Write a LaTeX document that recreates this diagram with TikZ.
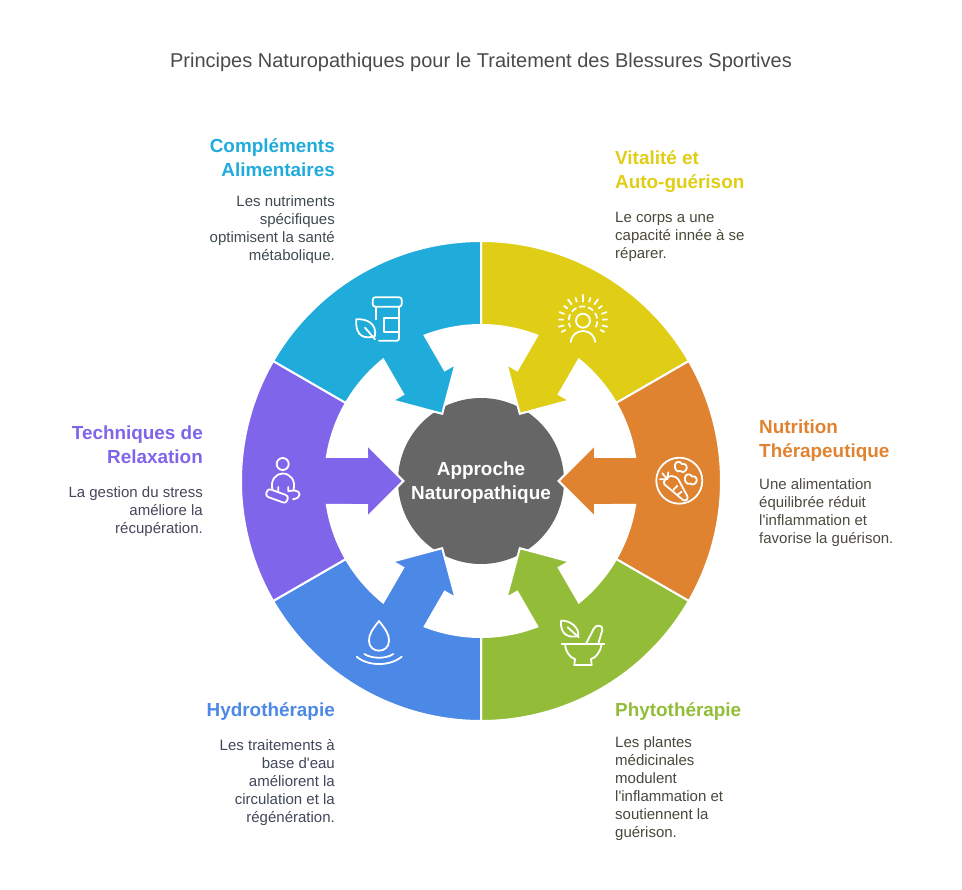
\documentclass[tikz,border=0pt]{standalone}
\usepackage{fontspec}
\setmainfont{Liberation Sans}
\usepackage{xcolor}

\definecolor{cyanc}{HTML}{1FACDB}
\definecolor{yellowc}{HTML}{E0CD15}
\definecolor{orangec}{HTML}{DF8331}
\definecolor{greenc}{HTML}{93BD39}
\definecolor{bluec}{HTML}{4C88E6}
\definecolor{purplec}{HTML}{7F65E9}
\definecolor{hubc}{HTML}{666666}
\definecolor{titlec}{HTML}{4A4A4A}
\definecolor{cyant}{HTML}{3F4A50}
\definecolor{yellowt}{HTML}{4A4838}
\definecolor{oranget}{HTML}{4D4A40}
\definecolor{greent}{HTML}{454A3C}
\definecolor{bluet}{HTML}{40465A}
\definecolor{purplet}{HTML}{46465C}

\begin{document}
\begin{tikzpicture}[x=1pt,y=1pt]
	\tikzstyle{every node}+=[inner sep=0pt]
	\tikzstyle{petal}=[draw=white,line width=2pt,line join=miter]
	\tikzstyle{icon}=[draw=white,line width=1.8pt,line cap=round,line join=round]
	\tikzstyle{heading}=[font=\fontsize{18.9}{24}\selectfont\bfseries]
	\tikzstyle{body}=[font=\fontsize{15}{18}\selectfont]
	\useasboundingbox (0,0) rectangle (962,-890);

	\node [font=\fontsize{20}{24}\selectfont,text=titlec] (title) at (481,-62) {Principes Naturopathiques pour le Traitement des Blessures Sportives};

	% hub
	\node [circle,fill=hubc,minimum size=166pt] (hub) at (481,-481) {};
	\node [align=center,text=white,font=\fontsize{18.9}{24}\selectfont\bfseries] (hublabel) at ([yshift=-2pt]hub.center) {Approche\\Naturopathique};

	% ring
	\begin{scope}[shift={(481,-481)}]
		\fill [petal,fill=yellowc] (30:240) arc [start angle=30,end angle=90,radius=240] -- (90:156) arc [start angle=90,end angle=68.85,radius=156] -- (71.89:116.5) -- (77.71:119.7) -- (60:77.6) -- (42.29:119.7) -- (48.11:116.5) -- (51.15:156) arc [start angle=51.15,end angle=30,radius=156] -- cycle;
		\fill [petal,fill=orangec] (-30:240) arc [start angle=-30,end angle=30,radius=240] -- (30:156) arc [start angle=30,end angle=8.85,radius=156] -- (11.89:116.5) -- (17.71:119.7) -- (0:77.6) -- (-17.71:119.7) -- (-11.89:116.5) -- (-8.85:156) arc [start angle=-8.85,end angle=-30,radius=156] -- cycle;
		\fill [petal,fill=greenc] (-90:240) arc [start angle=-90,end angle=-30,radius=240] -- (-30:156) arc [start angle=-30,end angle=-51.15,radius=156] -- (-48.11:116.5) -- (-42.29:119.7) -- (-60:77.6) -- (-77.71:119.7) -- (-71.89:116.5) -- (-68.85:156) arc [start angle=-68.85,end angle=-90,radius=156] -- cycle;
		\fill [petal,fill=bluec] (-150:240) arc [start angle=-150,end angle=-90,radius=240] -- (-90:156) arc [start angle=-90,end angle=-111.15,radius=156] -- (-108.11:116.5) -- (-102.29:119.7) -- (-120:77.6) -- (-137.71:119.7) -- (-131.89:116.5) -- (-128.85:156) arc [start angle=-128.85,end angle=-150,radius=156] -- cycle;
		\fill [petal,fill=purplec] (150:240) arc [start angle=150,end angle=210,radius=240] -- (210:156) arc [start angle=210,end angle=188.85,radius=156] -- (191.89:116.5) -- (197.71:119.7) -- (180:77.6) -- (162.29:119.7) -- (168.11:116.5) -- (171.15:156) arc [start angle=171.15,end angle=150,radius=156] -- cycle;
		\fill [petal,fill=cyanc] (90:240) arc [start angle=90,end angle=150,radius=240] -- (150:156) arc [start angle=150,end angle=128.85,radius=156] -- (131.89:116.5) -- (137.71:119.7) -- (120:77.6) -- (102.29:119.7) -- (108.11:116.5) -- (111.15:156) arc [start angle=111.15,end angle=90,radius=156] -- cycle;
	\end{scope}

	% jar and leaf
	\draw [icon,rounded corners=2.5pt] (372.7,-297.3) rectangle (401.7,-306.7);
	\draw [icon] (375.7,-306.7) -- (375.7,-319.3);
	\draw [icon,rounded corners=1.5pt] (399,-306.7) -- (399,-340.7) -- (379,-340.7);
	\draw [icon] (399,-317.7) -- (384.3,-317.7) -- (384.3,-331.7) -- (399,-331.7);
	\draw [icon] (356.3,-319.3) .. controls (366,-318.5) and (377,-323) .. (375,-336) .. controls (366,-339) and (355,-338) .. (356.3,-319.3);
	\draw [icon] (365,-327.7) -- (375,-339.3);

	% sun and person
	\draw [icon] (583,-320.7) circle (7);
	\draw [icon] (570.7,-342) .. controls (571.5,-335) and (577,-331) .. (583,-331) .. controls (589,-331) and (594.5,-335) .. (595.3,-342);
	\draw [icon,dash pattern=on 5pt off 4pt,shift={(583,-320.7)}] (-25:14.3) arc [start angle=-25,end angle=205,radius=14.3];
	\draw [icon,shift={(583,-320.7)}] (90:19) -- (90:26) (72:20) -- (72:24) (55:20) -- (55:26) (38:20) -- (38:24) (20:20) -- (20:25) (3:20) -- (3:24) (-14:20) -- (-14:25) (-28:20) -- (-28:24) (108:20) -- (108:24) (125:20) -- (125:26) (142:20) -- (142:24) (160:20) -- (160:25) (177:20) -- (177:24) (194:20) -- (194:25) (208:20) -- (208:24);

	% carrot and leaves
	\draw [icon] (679.3,-480.7) circle (23);
	\draw [icon] (664.3,-484.3) .. controls (662.5,-481) and (667,-476) .. (671.7,-476) .. controls (674.5,-476) and (677,-477.5) .. (678.3,-479.3) -- (687.3,-496) .. controls (688.5,-499) and (686,-501.5) .. (683,-500) -- cycle;
	\draw [icon] (667.3,-479.3) -- (660,-479.3) (667.3,-479.3) -- (662.3,-473.3) (667.3,-479.3) -- (668.3,-472.3);
	\draw [icon] (677.3,-485.7) -- (673.3,-490) (681.7,-491.7) -- (677.3,-495);
	\draw [icon] (675,-465) .. controls (675,-461) and (681,-461) .. (682,-464) .. controls (686,-463) and (688,-467) .. (686,-470) .. controls (684,-473) and (681,-472) .. (680,-471) .. controls (677,-473) and (674,-468) .. (675,-465);
	\draw [icon] (685,-477.5) .. controls (685,-473.5) and (691,-473.5) .. (692,-476.5) .. controls (696,-475.5) and (698,-479.5) .. (696,-482.5) .. controls (694,-485.5) and (691,-484.5) .. (690,-483.5) .. controls (687,-485.5) and (684,-480.5) .. (685,-477.5);

	% mortar and leaf
	\draw [icon] (561,-620.7) .. controls (570,-620) and (580,-628) .. (578,-636) .. controls (570,-638) and (560,-636) .. (561,-620.7);
	\draw [icon] (567.7,-627.3) -- (578.7,-637.3);
	\draw [icon] (586,-643.7) -- (594,-628.3) .. controls (595.5,-624.5) and (603.5,-624.5) .. (602.3,-630) -- (598.3,-643.7);
	\draw [icon] (561.7,-643.7) -- (604.3,-643.7);
	\draw [icon] (565,-643.7) .. controls (565,-651) and (570,-658) .. (575,-659) -- (574.3,-665) -- (591.7,-665) -- (591,-659) .. controls (596,-658) and (601,-651) .. (601.7,-643.7);

	% drop and ripples
	\draw [icon] (379,-621) .. controls (372,-630) and (369,-634) .. (369,-640.7) .. controls (369,-654) and (389,-654) .. (389,-640.7) .. controls (389,-634) and (386,-630) .. (379,-621) -- cycle;
	\draw [icon] (364.3,-654) .. controls (372,-659) and (386,-659) .. (393.3,-654);
	\draw [icon] (356.7,-656.7) .. controls (368,-666.5) and (390,-666.5) .. (401.7,-656.7);

	% person sitting
	\draw [icon] (282.7,-464) circle (6);
	\draw [icon] (272.5,-490) .. controls (270,-480) and (276,-473.5) .. (282.7,-473.5) .. controls (290,-473.5) and (296,-480) .. (293.5,-490);
	\draw [icon] (278.3,-487) -- (278.3,-492) (288.3,-487) -- (288.3,-491) -- (295,-490.5) .. controls (301,-491) and (302,-498) .. (293,-499.3);
	\draw [icon,rotate around={-20:(277,-496)},rounded corners=3pt] (266,-492) rectangle (288,-500);

	% labels
	\node [heading,text=cyanc,align=right,anchor=north east] (cyanhead) at (335,-138) {Compléments\\Alimentaires};
	\node [body,text=cyant,align=right,anchor=north east] (cyanbody) at (335,-195) {Les nutriments\\spécifiques\\optimisent la santé\\métabolique.};
	\node [heading,text=yellowc,align=left,anchor=north west] (yellowhead) at (615,-150) {Vitalité et\\Auto-guérison};
	\node [body,text=yellowt,align=left,anchor=north west] (yellowbody) at (615,-212) {Le corps a une\\capacité innée à se\\réparer.};
	\node [heading,text=orangec,align=left,anchor=north west] (orangehead) at (759,-420) {Nutrition\\Thérapeutique};
	\node [body,text=oranget,align=left,anchor=north west] (orangebody) at (759,-478) {Une alimentation\\équilibrée réduit\\l\textquotesingle inflammation et\\favorise la guérison.};
	\node [heading,text=purplec,align=right,anchor=north east] (purplehead) at (203,-426) {Techniques de\\Relaxation};
	\node [body,text=purplet,align=right,anchor=north east] (purplebody) at (203,-486) {La gestion du stress\\améliore la\\récupération.};
	\node [heading,text=bluec,anchor=north east] (bluehead) at (335,-702) {Hydrothérapie};
	\node [body,text=bluet,align=right,anchor=north east] (bluebody) at (335,-739) {Les traitements à\\base d\textquotesingle eau\\améliorent la\\circulation et la\\régénération.};
	\node [heading,text=greenc,anchor=north west] (greenhead) at (615,-702) {Phytothérapie};
	\node [body,text=greent,align=left,anchor=north west] (greenbody) at (615,-736) {Les plantes\\médicinales\\modulent\\l\textquotesingle inflammation et\\soutiennent la\\guérison.};
\end{tikzpicture}
\end{document}
